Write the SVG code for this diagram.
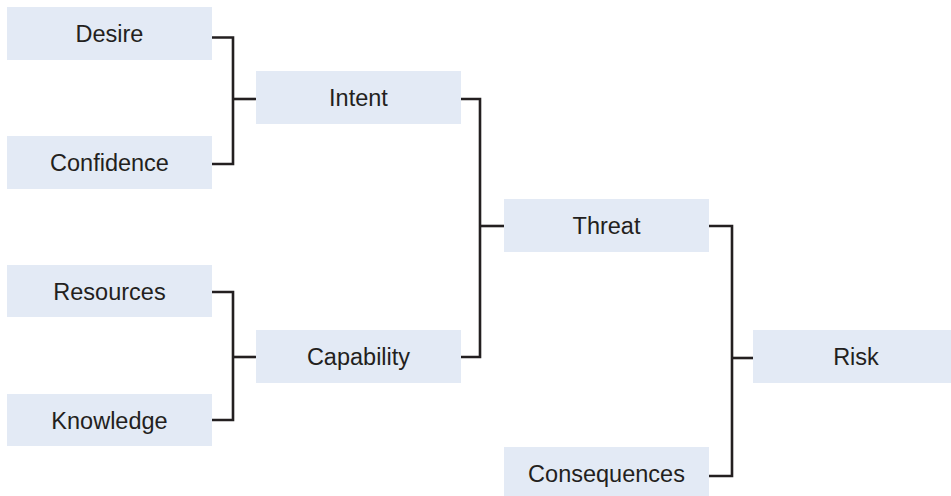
<svg xmlns="http://www.w3.org/2000/svg" width="951" height="496" viewBox="0 0 951 496">
<style>
.box{fill:#e3eaf5}
.lbl{font-family:"Liberation Sans",Arial,sans-serif;font-size:23.5px;fill:#231f20;text-anchor:middle}
.con{fill:none;stroke:#231f20;stroke-width:2.6;stroke-linejoin:miter;stroke-linecap:butt}
</style>
<rect width="951" height="496" fill="#ffffff"/>
<g id="connectors">
<path class="con" d="M212 37.5H233V164H212"/>
<path class="con" d="M233 99H256"/>
<path class="con" d="M212 292H233V420H212"/>
<path class="con" d="M233 357H256"/>
<path class="con" d="M461 99H480V357H461"/>
<path class="con" d="M480 226H504"/>
<path class="con" d="M709 226H732V476H709"/>
<path class="con" d="M732 358H753"/>
</g>
<g id="desire"><rect class="box" x="7" y="7" width="205" height="53"/><text class="lbl" x="109.5" y="42">Desire</text></g>
<g id="confidence"><rect class="box" x="7" y="136" width="205" height="53"/><text class="lbl" x="109.5" y="171">Confidence</text></g>
<g id="intent"><rect class="box" x="256" y="71" width="205" height="53"/><text class="lbl" x="358.5" y="106">Intent</text></g>
<g id="resources"><rect class="box" x="7" y="265" width="205" height="52"/><text class="lbl" x="109.5" y="299.5">Resources</text></g>
<g id="knowledge"><rect class="box" x="7" y="394" width="205" height="52"/><text class="lbl" x="109.5" y="428.5">Knowledge</text></g>
<g id="capability"><rect class="box" x="256" y="330" width="205" height="53"/><text class="lbl" x="358.5" y="365">Capability</text></g>
<g id="threat"><rect class="box" x="504" y="199" width="205" height="53"/><text class="lbl" x="606.5" y="234">Threat</text></g>
<g id="consequences"><rect class="box" x="504" y="447" width="205" height="53"/><text class="lbl" x="606.5" y="482">Consequences</text></g>
<g id="risk"><rect class="box" x="753" y="330" width="205" height="53"/><text class="lbl" x="856" y="365">Risk</text></g>
</svg>
